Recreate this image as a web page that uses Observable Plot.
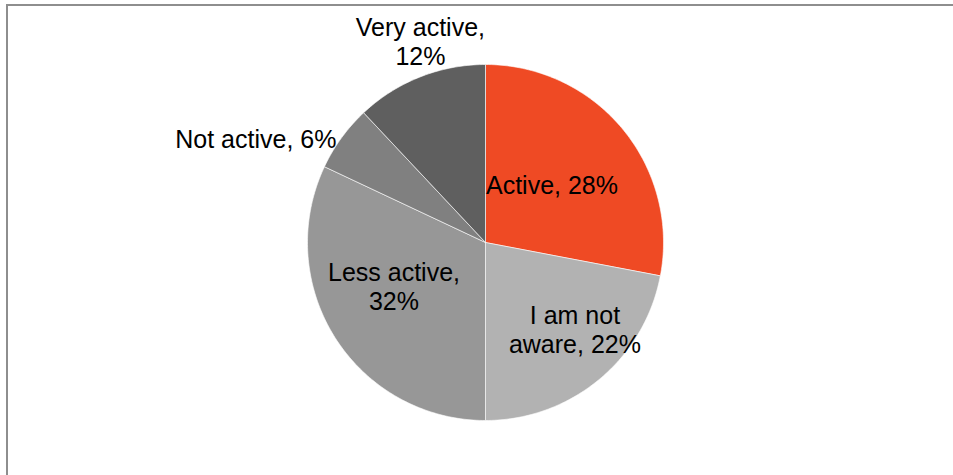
<!DOCTYPE html>
<html>
<head>
<meta charset="utf-8">
<script src="https://cdn.jsdelivr.net/npm/d3@7"></script>
<script src="https://cdn.jsdelivr.net/npm/@observablehq/plot@0.6"></script>
<style>
  html, body { margin: 0; padding: 0; background: #fff; overflow: hidden; }
  #wrap { position: relative; width: 953px; height: 475px; }
  #frame { position: absolute; left: 6px; top: 4px; width: 1000px; height: 1000px;
           border-left: 2px solid #8e8e8e; border-top: 2px solid #8e8e8e; box-sizing: border-box; }
  #chart { position: absolute; left: 0; top: 0; }
</style>
</head>
<body>
<div id="wrap"><div id="frame"></div><div id="chart"></div></div>
<script>
// ---- data ----
const categories = ["Active", "I am not aware", "Less active", "Not active", "Very active"];
const values = [28, 22, 32, 6, 12];
const labels = ["Active, 28%", "I am not\naware, 22%", "Less active,\n32%", "Not active, 6%", "Very active,\n12%"];

// ---- styles / layout ----
const colors = ["#ef4a24", "#b2b2b2", "#979797", "#808080", "#5f5f5f"];
// label placement: angle (deg, clockwise from top) and radius as a fraction of the pie radius
const labelAngle = [50.2, 134.8, 243.4, 293.8, 341.9];
const labelRadius = [0.486, 0.708, 0.575, 1.41, 1.177];

const total = d3.sum(values);
const rad = Math.PI / 180;

// slice polygons (geometry of the arcs, sampled every degree)
const slices = [];
let start = 0;
categories.forEach((c, i) => {
  const sweep = values[i] / total * 360;
  const end = start + sweep;
  slices.push({cat: c, x: 0, y: 0});
  const n = Math.max(2, Math.ceil(sweep));
  for (let k = 0; k <= n; ++k) {
    const a = (start + sweep * k / n) * rad;
    slices.push({cat: c, x: Math.sin(a), y: Math.cos(a)});
  }
  slices.push({cat: c, x: 0, y: 0});
  start = end;
});

const labelRows = categories.map((c, i) => ({
  cat: c,
  text: labels[i],
  x: labelRadius[i] * Math.sin(labelAngle[i] * rad),
  y: labelRadius[i] * Math.cos(labelAngle[i] * rad)
}));

const chart = Plot.plot({
  width: 953,
  height: 475,
  marginLeft: 307,
  marginRight: 290,
  marginTop: 64,
  marginBottom: 55,
  style: {background: "none", fontFamily: "'Liberation Sans', Arial, sans-serif"},
  x: {domain: [-1, 1], axis: null},
  y: {domain: [-1, 1], axis: null},
  color: {domain: categories, range: colors},
  marks: [
    Plot.line(slices, {x: "x", y: "y", z: "cat", fill: "cat", stroke: "#ffffff", strokeWidth: 0.75, strokeOpacity: 0.8, curve: "linear"}),
    Plot.text(labelRows, {x: "x", y: "y", text: "text", fontSize: 25, lineHeight: 1.176, dy: -2.5, fill: "#000", lineAnchor: "middle", textAnchor: "middle"})
  ]
});
document.getElementById("chart").appendChild(chart);
</script>
</body>
</html>
